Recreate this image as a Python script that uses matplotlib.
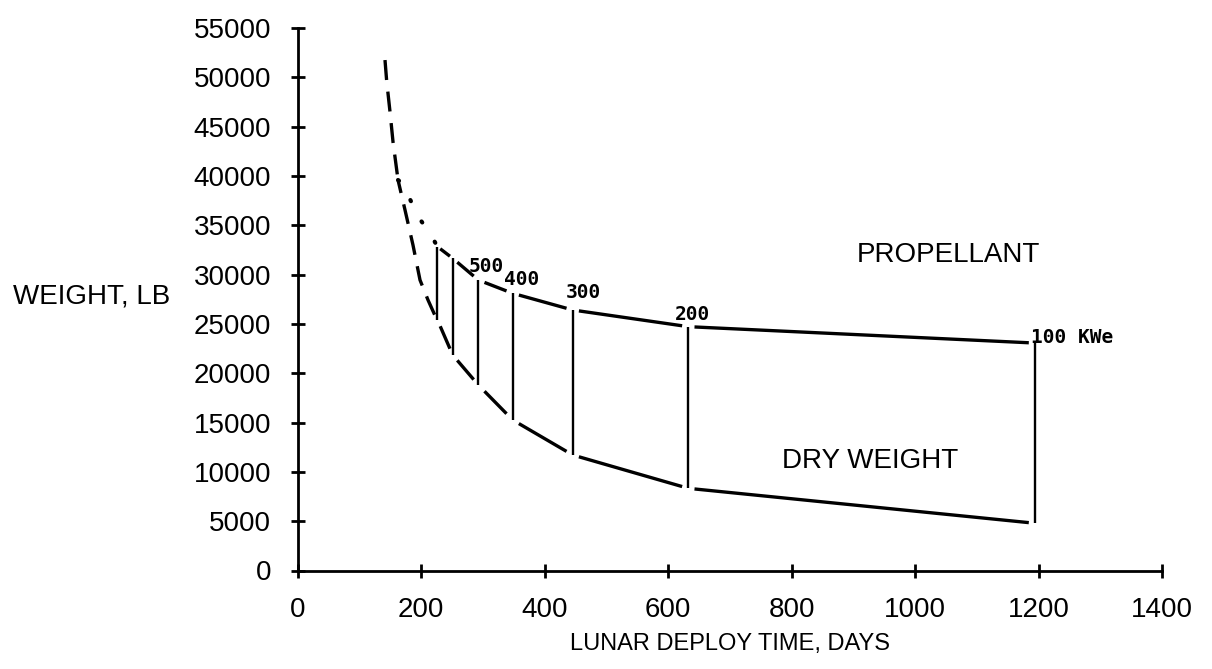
import matplotlib
matplotlib.use("Agg")
import matplotlib.pyplot as plt
import numpy as np

# ---------------- data ----------------
power_labels = ["", "", "500", "400", "300", "200", "100 KWe"]
deploy_days = [226.7, 251.3, 292.8, 348.5, 445.7, 632.9, 1194.3]
total_weight = [32830, 31650, 29450, 28100, 26410, 24720, 23060]
dry_weight = [25400, 21850, 18810, 15260, 11710, 8330, 4790]

# high-power extrapolation, left of the first vertical
trunk_days = [141.7, 144.5, 149.8, 154.7, 162.8]
trunk_weight = [51750, 49550, 46510, 43440, 39590]
upper_ext_days = [162.8, 171.3, 183.3, 197.2, 214.6, 226.7]
upper_ext_weight = [39590, 39190, 37490, 35710, 34180, 32830]
lower_ext_days = [162.8, 174.1, 187.0, 198.4, 211.3, 225.9]
lower_ext_weight = [39590, 36550, 33000, 29450, 27430, 25400]

x_ticks = [0, 200, 400, 600, 800, 1000, 1200, 1400]
y_ticks = list(range(0, 55001, 5000))

# ---------------- figure ----------------
W, H = 1212, 669
fig = plt.figure(figsize=(W / 100, H / 100), dpi=100)
ax = fig.add_axes([297.5 / W, 1 - 570.5 / H, (1162 - 297.5) / W, (570.5 - 28) / H])
ax.set_xlim(0, 1400)
ax.set_ylim(0, 55000)

font = "Liberation Sans"
lw_curve = 2.4

for s in ["top", "right"]:
    ax.spines[s].set_visible(False)
for s in ["left", "bottom"]:
    ax.spines[s].set_linewidth(2.0)

ax.set_xticks(x_ticks)
ax.set_yticks(y_ticks)
ax.set_xticklabels([str(v) for v in x_ticks], fontsize=20, family=font)
ax.set_yticklabels([str(v) for v in y_ticks], fontsize=20, family=font)
ax.tick_params(axis="both", direction="inout", length=10, width=2, pad=14)

# trunk (dashed)
ax.plot(trunk_days, trunk_weight, color="black", lw=lw_curve,
        linestyle=(0, (6, 3.5)))
# upper branch (dotted)
ax.plot(upper_ext_days, upper_ext_weight, color="black", lw=lw_curve + 0.6,
        linestyle=(0, (0.3, 5.5)), dash_capstyle="round")
# lower branch (dashed)
ax.plot(lower_ext_days, lower_ext_weight, color="black", lw=lw_curve,
        linestyle=(2, (6, 3.5)))

# segments between the verticals (with small breaks at each vertical)
for i in range(len(deploy_days) - 1):
    d0, d1 = deploy_days[i], deploy_days[i + 1]
    g = min(10.0, 0.18 * (d1 - d0))
    xs = [d0 + g, d1 - g]
    ax.plot(xs, np.interp(xs, [d0, d1], [total_weight[i], total_weight[i + 1]]),
            color="black", lw=lw_curve, solid_capstyle="butt")
    ax.plot(xs, np.interp(xs, [d0, d1], [dry_weight[i], dry_weight[i + 1]]),
            color="black", lw=lw_curve, solid_capstyle="butt")

# verticals
ax.vlines(deploy_days, dry_weight, total_weight, color="black", lw=1.7)

# power labels
offsets = [(0, 0), (0, 0), (-7, 6), (-6, 6), (-5, 9), (-10, 5), (-3, 0)]
for d, t, lab, off in zip(deploy_days, total_weight, power_labels, offsets):
    if lab:
        ax.annotate(lab, (d, t), xytext=off, textcoords="offset points",
                    ha="left", va="baseline", fontsize=14,
                    family="DejaVu Sans Mono", fontweight="bold")

ax.text(1054, 31300, "PROPELLANT", ha="center", va="baseline",
        fontsize=20, family=font)
ax.text(928, 10360, "DRY WEIGHT", ha="center", va="baseline",
        fontsize=20, family=font)

fig.text(13 / W, 1 - 297 / H, "WEIGHT, LB", ha="left", va="center",
         fontsize=20, family=font)
fig.text(729.7 / W, 1 - 644 / H, "LUNAR DEPLOY TIME, DAYS", ha="center",
         va="center", fontsize=17, family=font)

fig.savefig("out.png", dpi=100, facecolor="white")
